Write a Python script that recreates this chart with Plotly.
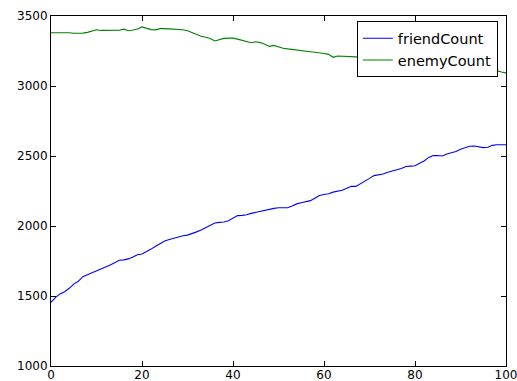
import plotly.graph_objects as go

x_vals = list(range(101))

friend_count = [
    1455, 1490, 1515, 1530, 1555, 1585, 1605, 1638, 1652, 1665,
    1682, 1695, 1707, 1722, 1738, 1755, 1758, 1765, 1778, 1795,
    1800, 1815, 1835, 1855, 1875, 1893, 1903, 1912, 1925, 1930,
    1935, 1945, 1958, 1972, 1990, 2007, 2022, 2026, 2028, 2038,
    2055, 2074, 2076, 2080, 2090, 2097, 2108, 2116, 2120, 2126,
    2130, 2128, 2130, 2143, 2158, 2166, 2174, 2181, 2198, 2218,
    2225, 2230, 2242, 2248, 2255, 2270, 2284, 2283, 2300, 2320,
    2340, 2360, 2366, 2372, 2384, 2395, 2402, 2410, 2425, 2428,
    2430, 2448, 2464, 2490, 2503, 2504, 2500, 2515, 2525, 2532,
    2548, 2560, 2570, 2571, 2565, 2560, 2563, 2576, 2580, 2582,
    2580,
]

enemy_count = [
    3380, 3381, 3382, 3382, 3380, 3377, 3376, 3378, 3383, 3392,
    3402, 3397, 3397, 3393, 3393, 3398, 3406, 3395, 3400, 3407,
    3422, 3412, 3403, 3401, 3410, 3410, 3409, 3408, 3406, 3402,
    3395, 3383, 3366, 3356, 3348, 3340, 3322, 3332, 3340, 3342,
    3342, 3335, 3326, 3318, 3309, 3316, 3310, 3298, 3283, 3290,
    3278, 3270, 3265, 3262, 3259, 3255, 3250, 3245, 3241, 3238,
    3232, 3226, 3205, 3214, 3212, 3210, 3210, 3208, 3200, 3196,
    3194, 3190, 3183, 3178, 3176, 3170, 3166, 3163, 3160, 3157,
    3152, 3148, 3145, 3140, 3136, 3132, 3128, 3125, 3120, 3116,
    3112, 3108, 3108, 3109, 3110, 3110, 3111, 3112, 3110, 3100,
    3094,
]

x_ticks = [0, 20, 40, 60, 80, 100]
y_ticks = [1000, 1500, 2000, 2500, 3000, 3500]

fig = go.Figure()
fig.add_trace(go.Scatter(x=x_vals, y=friend_count, mode="lines", name="friendCount",
                         line=dict(color="#0000ff", width=1.1)))
fig.add_trace(go.Scatter(x=x_vals, y=enemy_count, mode="lines", name="enemyCount",
                         line=dict(color="#008000", width=1.1)))

axis_common = dict(
    showgrid=False, zeroline=False, showline=True, linecolor="black", linewidth=1,
    mirror="ticks", ticks="inside", ticklen=5, tickcolor="black", tickwidth=1,
    automargin=False, ticklabeloverflow="allow",
    tickfont=dict(family="DejaVu Sans", size=12, color="black"),
)

fig.update_layout(
    width=517, height=381,
    margin=dict(l=51, r=11, t=16, b=15, pad=0),
    paper_bgcolor="white", plot_bgcolor="white",
    font=dict(family="DejaVu Sans", color="black"),
    xaxis=dict(range=[0, 100], tickvals=x_ticks, ticktext=[str(v) for v in x_ticks],
               ticklabelstandoff=-2, **axis_common),
    yaxis=dict(range=[1000, 3500], tickvals=y_ticks, ticktext=[str(v) for v in y_ticks],
               **axis_common),
    legend=dict(x=0.982, y=0.985, xanchor="right", yanchor="top",
                bgcolor="white", bordercolor="black", borderwidth=1,
                font=dict(family="DejaVu Sans", size=14.5, color="black")),
    showlegend=True,
)

fig.write_html("out.html")
